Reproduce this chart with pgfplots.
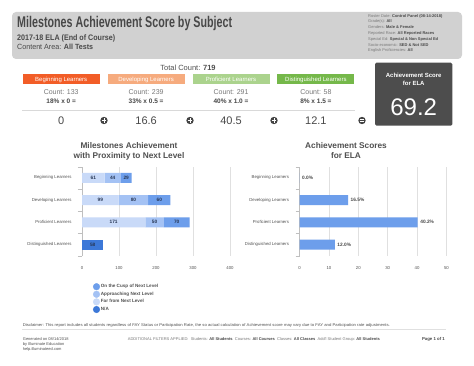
\documentclass[border=0pt]{standalone}
\usepackage{pgfplots}
\pgfplotsset{compat=1.18}
\usepackage{fontspec}
\setmainfont{Liberation Sans}
\usepackage{graphicx}
\definecolor{hdr}{RGB}{209,209,209}
\definecolor{ttl}{RGB}{72,72,72}
\definecolor{txt}{RGB}{80,80,80}
\definecolor{lgray}{RGB}{120,120,120}
\definecolor{beg}{RGB}{242,93,39}
\definecolor{dev}{RGB}{246,171,126}
\definecolor{pro}{RGB}{171,211,141}
\definecolor{dis}{RGB}{117,184,74}
\definecolor{darkbox}{RGB}{77,77,77}
\definecolor{circ}{RGB}{68,68,68}
\definecolor{far}{RGB}{201,218,248}
\definecolor{appr}{RGB}{164,194,244}
\definecolor{cusp}{RGB}{109,158,235}
\definecolor{na}{RGB}{60,120,216}
\definecolor{barlbl}{RGB}{40,55,85}
\newcommand\fs[1]{\fontsize{#1}{#1}\selectfont}
\pgfplotsset{/pgf/number format/assume math mode=true,
 dash/.style={scale only axis, height=89pt, ymin=-0.5, ymax=3.5,
  ytick={0,1,2,3},
  yticklabels={Distinguished Learners,Proficient Learners,Developing Learners,Beginning Learners},
  minor ytick={-0.5,0.5,1.5,2.5,3.5},
  axis lines*=left, x axis line style={draw=none}, y axis line style={black!25},
  major tick length=0pt, minor tick length=4pt, tick align=outside,
  minor tick style={black!25}, major tick style={draw=none},
  xmajorgrids, grid style={black!12, line width=0.6pt},
  tick label style={font=\fs{4.3}, text=txt},
  xticklabel style={yshift=-7pt}, yticklabel style={xshift=-7pt},
  bar width=10pt}}
\begin{document}
\begin{tikzpicture}[x=1pt,y=1pt]
\useasboundingbox (0,0) rectangle (474,-366);
\fill[white] (0,0) rectangle (474,-366);
% header
\fill[hdr, rounded corners=4pt] (12,-12) rectangle (462,-59);
\node[anchor=base west, inner sep=0, text=ttl, font=\bfseries\fs{15.5}] at (17,-27.5) {\resizebox{215pt}{\height}{Milestones Achievement Score by Subject}};
\node[anchor=base west, inner sep=0, text=ttl, font=\bfseries\fs{8}] at (17,-40.5) {\resizebox{98pt}{\height}{2017-18 ELA (End of Course)}};
\node[anchor=base west, inner sep=0, text=ttl, font=\fs{7.5}] at (17,-50) {\resizebox{76pt}{\height}{Content Area: \textbf{All Tests}}};
\begin{scope}[every node/.style={anchor=base west, inner sep=0, font=\fs{4}, text=lgray}]
\node at (368,-17.2) {Roster Date: \textcolor{ttl}{\bfseries Control Panel (08-14-2018)}};
\node at (368,-23.0) {Grade(s): \textcolor{ttl}{\bfseries All}};
\node at (368,-28.8) {Genders: \textcolor{ttl}{\bfseries Male \& Female}};
\node at (368,-34.6) {Reported Race: \textcolor{ttl}{\bfseries All Reported Races}};
\node at (368,-40.4) {Special Ed: \textcolor{ttl}{\bfseries Special \& Non Special Ed}};
\node at (368,-46.2) {Socio-economic: \textcolor{ttl}{\bfseries SED \& Not SED}};
\node at (368,-52.0) {English Proficiencies: \textcolor{ttl}{\bfseries All}};
\end{scope}
% counts
\node[anchor=base, inner sep=0, text=txt, font=\fs{7.5}] at (188,-71) {Total Count: \textbf{719}};
\foreach \x/\c/\lab/\cnt/\pct/\val in {22.7/beg/Beginning Learners/133/18\% x 0 =/0,
  107.6/dev/Developing Learners/239/33\% x 0.5 =/16.6,
  192.5/pro/Proficient Learners/291/40\% x 1.0 =/40.5,
  277.4/dis/Distinguished Learners/58/8\% x 1.5 =/12.1}{
  \fill[\c] (\x,-74.5) rectangle ++(77,-10);
  \node[anchor=base, inner sep=0, text=white, font=\fs{6}] at (\x+38.5,-81.7) {\lab};
  \node[anchor=base, inner sep=0, text=lgray, font=\fs{7}] at (\x+38.5,-94.5) {Count: \cnt};
  \node[anchor=base, inner sep=0, text=ttl, font=\bfseries\fs{6.5}] at (\x+38.5,-104) {\pct};
  \node[anchor=base, inner sep=0, text=ttl, font=\fs{11}] at (\x+38.5,-124.5) {\val};
}
\draw[black!15, line width=0.6pt] (22,-110.5) -- (355,-110.5);
\foreach \x in {104,190,274}{
  \fill[circ] (\x,-120.5) circle (3.7);
  \draw[white, line width=0.8pt] (\x-2.1,-120.5) -- (\x+2.1,-120.5) (\x,-118.4) -- (\x,-122.6);
}
\fill[circ] (362,-120.5) circle (3.7);
\draw[white, line width=0.7pt] (360,-119.6) -- (364,-119.6) (360,-121.4) -- (364,-121.4);
% score box
\fill[darkbox, rounded corners=1.5pt] (375,-62.7) rectangle (452.3,-125.7);
\node[anchor=base, inner sep=0, text=white, font=\bfseries\fs{6}] at (413.7,-77.5) {Achievement Score};
\node[anchor=base, inner sep=0, text=white, font=\bfseries\fs{6}] at (413.7,-86) {for ELA};
\node[anchor=base, inner sep=0, text=white, font=\fs{24}] at (413.7,-115.3) {69.2};
% chart titles
\node[anchor=base, inner sep=0, text=txt, font=\bfseries\fs{8.3}] at (129,-148.5) {Milestones Achievement};
\node[anchor=base, inner sep=0, text=txt, font=\bfseries\fs{8.3}] at (129,-159) {with Proximity to Next Level};
\node[anchor=base, inner sep=0, text=txt, font=\bfseries\fs{8.3}] at (346,-148.5) {Achievement Scores};
\node[anchor=base, inner sep=0, text=txt, font=\bfseries\fs{8.3}] at (346,-159) {for ELA};
% left chart
\begin{axis}[dash, at={(82pt,-255.7pt)}, anchor=south west, width=148pt,
  xbar stacked, xmin=0, xmax=400, xtick={0,100,200,300,400},
  after end axis/.code={
    \begin{scope}[every node/.style={font=\bfseries\fs{4.8}, text=barlbl, inner sep=0}]
    \node at (axis cs:30.5,3) {61};
    \node at (axis cs:83,3) {44};
    \node at (axis cs:119.5,3) {29};
    \node at (axis cs:49.5,2) {99};
    \node at (axis cs:139,2) {80};
    \node at (axis cs:209,2) {60};
    \node at (axis cs:85.5,1) {171};
    \node at (axis cs:196,1) {50};
    \node at (axis cs:256,1) {70};
    \node at (axis cs:29,0) {58};
    \end{scope}}]
\addplot[fill=far, draw=none] coordinates {(61,3) (99,2) (171,1) (0,0)};
\addplot[fill=appr, draw=none] coordinates {(44,3) (80,2) (50,1) (0,0)};
\addplot[fill=cusp, draw=none] coordinates {(29,3) (60,2) (70,1) (0,0)};
\addplot[fill=na, draw=none] coordinates {(0,3) (0,2) (0,1) (58,0)};
\end{axis}
% legend (empty axis)
\begin{axis}[at={(92.8pt,-283pt)}, anchor=north west, scale only axis, width=1pt, height=1pt,
  hide axis, xmin=0, xmax=1, ymin=0, ymax=1,
  legend style={at={(0,1)}, anchor=north west, draw=none, fill=none,
    font=\bfseries\fs{4.6}, text=txt, row sep=0.6pt, inner sep=0pt,
    nodes={inner sep=0.9pt}},
  legend cell align=left]
\addlegendimage{legend image code/.code={\fill[cusp] (0pt,0pt) circle (3.3pt);}}
\addlegendentry{On the Cusp of Next Level}
\addlegendimage{legend image code/.code={\fill[appr] (0pt,0pt) circle (3.3pt);}}
\addlegendentry{Approaching Next Level}
\addlegendimage{legend image code/.code={\fill[far] (0pt,0pt) circle (3.3pt);}}
\addlegendentry{Far from Next Level}
\addlegendimage{legend image code/.code={\fill[na] (0pt,0pt) circle (3.3pt);}}
\addlegendentry{N/A}
\end{axis}
% right chart
\begin{axis}[dash, at={(299.5pt,-255.7pt)}, anchor=south west, width=147pt,
  xbar, xmin=0, xmax=50, xtick={0,10,20,30,40,50}]
\addplot[fill=cusp, draw=none, point meta=x,
  nodes near coords={\pgfmathprintnumber[fixed,fixed zerofill,precision=1]{\pgfplotspointmeta}\%},
  nodes near coords style={font=\bfseries\fs{4.8}, text=ttl, anchor=west, inner sep=2.5pt}]
  coordinates {(0,3) (16.5,2) (40.2,1) (12.0,0)};
\end{axis}
% footer
\node[anchor=base west, inner sep=0, text=txt, font=\fs{4}] at (22.7,-326.5) {\resizebox{367pt}{\height}{Disclaimer: This report includes all students regardless of FAY Status or Participation Rate, the so actual calculation of Achievement score may vary due to FAY and Participation rate adjustments.}};
\draw[black!12, line width=0.5pt] (22,-329.5) -- (446,-329.5);
\node[anchor=base west, inner sep=0, text=txt, font=\fs{4}] at (22.7,-340.5) {Generated on 08/14/2018};
\node[anchor=base west, inner sep=0, text=txt, font=\fs{4}] at (22.7,-345.5) {by Illuminate Education};
\node[anchor=base west, inner sep=0, text=txt, font=\fs{4}] at (22.7,-350.5) {help.illuminateed.com};
\node[anchor=base west, inner sep=0, text=lgray, font=\fs{4}] at (127.7,-340.5) {\resizebox{252pt}{\height}{ADDITIONAL FILTERS APPLIED: \ Students: \textcolor{ttl}{\bfseries All Students} \ Courses: \textcolor{ttl}{\bfseries All Courses} \ Classes: \textcolor{ttl}{\bfseries All Classes} \ Add'l Student Group: \textcolor{ttl}{\bfseries All Students}}};
\node[anchor=base east, inner sep=0, text=ttl, font=\bfseries\fs{4.3}] at (445,-340.5) {Page 1 of 1};
\end{tikzpicture}
\end{document}
